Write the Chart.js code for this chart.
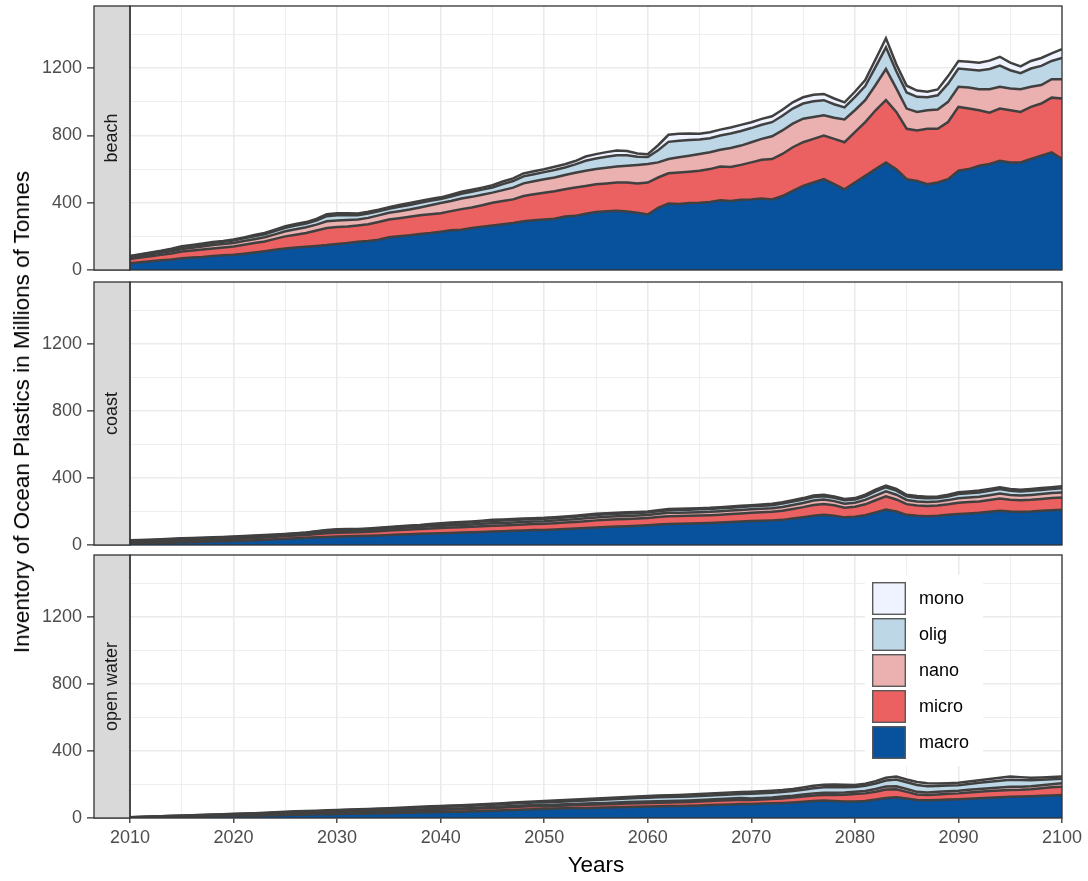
<!DOCTYPE html>
<html>
<head>
<meta charset="utf-8">
<script src="https://cdn.jsdelivr.net/npm/chart.js@4.4.1/dist/chart.umd.min.js"></script>
<style>
  html, body { margin: 0; padding: 0; background: #fff; }
  #wrap { position: relative; width: 1088px; height: 881px; overflow: hidden; }
  #wrap canvas { position: absolute; left: 0; }
  #ytitle {
    position: absolute; left: 22px; top: 412px;
    transform: translate(-50%, -50%) rotate(-90deg);
    white-space: nowrap; color: #000;
    font: 22.5px "Liberation Sans", Arial, sans-serif;
  }
</style>
</head>
<body>
<div id="wrap">
  <canvas id="beach" width="1088" height="282" style="top:0"></canvas>
  <canvas id="coast" width="1088" height="287" style="top:270px"></canvas>
  <canvas id="openwater" width="1088" height="348" style="top:533px"></canvas>
  <div id="ytitle">Inventory of Ocean Plastics in Millions of Tonnes</div>
</div>
<script>
const FONT = '"Liberation Sans", Arial, sans-serif';

// x categories: one value per year
const years = Array.from({ length: 91 }, (_, i) => 2010 + i);
const layers = ['macro', 'micro', 'nano', 'olig', 'mono'];
const layerColors = ['#08519C', '#EB6161', '#EBB1B1', '#BDD7E7', '#EFF3FF'];

const yTicks = [0, 200, 400, 600, 800, 1000, 1200, 1400];
const yLabels = [0, 400, 800, 1200];
const xTicks = [2010, 2015, 2020, 2025, 2030, 2035, 2040, 2045, 2050, 2055,
                2060, 2065, 2070, 2075, 2080, 2085, 2090, 2095, 2100];
const xLabels = [2010, 2020, 2030, 2040, 2050, 2060, 2070, 2080, 2090, 2100];

// ---- beach ----
const beachMacro = [40,46,52,58,63,70,74,78,84,87,
  90,97,104,112,120,128,134,138,143,148,
  155,160,168,172,180,195,200,206,214,220,
  228,236,240,250,258,265,272,280,290,296,
  300,305,318,322,335,345,350,352,348,340,
  330,370,395,392,398,400,405,415,410,418,
  420,425,420,440,470,500,520,540,510,480,
  520,560,600,640,600,540,530,510,520,540,
  590,600,620,630,650,640,640,660,680,700,
  660];
const beachMicro = [25,28,30,32,35,40,42,44,44,47,
  50,53,56,58,65,72,76,82,92,102,
  100,98,97,100,105,105,108,110,111,112,
  110,114,122,122,127,135,138,140,150,154,
  160,163,162,168,165,165,165,168,172,175,
  190,180,180,188,187,190,195,200,202,207,
  220,230,240,250,260,260,260,260,270,280,
  300,320,350,370,340,300,300,330,320,340,
  380,360,330,305,310,310,300,310,310,325,
  360];
const beachNano = [10,11,12,13,14,15,16,18,20,20,
  20,22,23,25,27,30,32,34,35,40,
  40,40,35,38,40,40,42,44,47,53,
  60,60,63,63,63,60,65,70,75,78,
  80,82,85,88,90,90,93,95,100,110,
  110,90,85,90,95,100,100,100,113,115,
  120,125,135,140,140,140,130,120,125,135,
  130,130,150,185,140,120,110,110,115,120,
  120,125,125,140,130,130,135,120,110,110,
  115];
const beachOlig = [6,6,7,8,10,12,12,12,14,14,
  15,16,18,18,20,21,22,22,24,30,
  30,28,26,26,24,24,26,27,28,26,
  24,27,28,30,30,31,36,39,42,42,
  42,45,45,50,60,63,66,68,62,48,
  42,72,102,99,93,86,84,85,87,87,
  84,84,84,87,90,90,93,90,81,72,
  78,84,108,129,102,96,90,78,84,108,
  108,108,111,120,126,108,96,108,114,108,
  126];
const beachMono = [2,3,3,3,4,5,5,5,5,5,
  6,6,7,7,8,9,9,9,10,12,
  12,12,10,10,10,10,10,11,11,11,
  10,11,12,12,12,13,15,16,17,17,
  17,19,19,20,25,26,27,28,25,20,
  17,30,42,41,39,35,35,35,36,36,
  35,35,35,36,37,37,39,37,34,30,
  32,35,45,54,42,40,37,32,35,45,
  45,45,46,50,52,45,40,45,47,45,
  52];

// ---- coast ----
const coastMacro = [10,11,12,13,14,16,17,19,21,22,
  24,26,29,32,35,38,40,43,46,48,
  50,52,53,55,57,60,62,64,67,69,
  70,72,74,76,78,80,82,85,87,89,
  90,93,96,99,102,105,108,110,112,115,
  118,122,126,127,128,130,132,134,137,140,
  143,145,147,150,158,166,175,180,175,165,
  168,178,195,212,200,180,174,172,175,180,
  185,188,192,198,205,200,198,200,204,208,
  210];
const coastMicro = [8,8,9,9,10,11,11,11,11,12,
  12,13,13,13,14,15,16,17,20,22,
  23,23,23,24,25,26,27,28,28,30,
  31,32,32,33,34,35,35,35,36,36,
  37,37,38,39,40,42,42,43,43,43,
  43,45,46,46,46,46,46,47,48,48,
  49,50,51,54,57,60,64,65,62,58,
  60,65,72,78,72,64,62,61,61,63,
  67,68,68,70,72,70,69,70,71,72,
  73];
const coastNano = [4,4,4,5,5,5,6,6,6,6,
  6,6,6,7,7,7,8,8,9,10,
  10,10,10,10,11,11,12,12,12,13,
  13,14,14,14,15,15,15,15,15,15,
  15,16,16,16,17,17,18,18,18,18,
  18,19,20,20,20,20,20,21,21,21,
  21,22,22,23,24,25,26,26,25,24,
  24,26,28,30,28,25,24,24,24,25,
  27,27,28,29,30,29,28,29,29,30,
  30];
const coastOlig = [4,5,5,5,6,6,6,6,6,6,
  6,6,6,5,4,4,4,5,5,7,
  8,7,7,7,7,8,8,8,9,10,
  11,11,12,13,13,14,14,14,14,14,
  14,14,14,15,15,15,15,15,15,15,
  15,15,16,17,17,17,17,17,17,18,
  18,18,18,20,20,20,21,20,20,20,
  20,22,25,25,25,22,22,22,21,22,
  25,26,26,27,27,25,25,25,25,25,
  26];
const coastMono = [2,2,2,2,2,2,2,2,2,2,
  2,2,2,2,2,2,2,2,2,3,
  3,3,3,3,3,3,3,4,4,4,
  5,5,5,5,5,6,6,6,6,6,
  6,6,6,6,6,7,7,7,7,6,
  6,7,7,7,7,7,7,7,7,7,
  7,7,8,8,9,9,9,9,8,8,
  8,9,10,10,10,9,10,9,9,10,
  11,11,11,11,11,11,10,11,11,10,
  11];

// ---- open water ----
const openMacro = [2,3,4,5,6,7,8,9,10,11,
  12,13,14,15,17,18,20,21,22,23,
  24,25,26,27,28,29,31,32,34,35,
  36,37,38,40,42,44,46,48,50,52,
  54,56,58,59,60,61,62,64,66,67,
  69,70,71,72,73,75,77,79,81,83,
  84,86,88,90,93,97,101,104,102,99,
  98,102,110,120,124,116,108,106,108,110,
  112,115,118,121,124,127,128,130,133,135,
  137];
const openMicro = [1,1,2,2,2,3,3,4,4,4,
  5,5,5,6,6,7,7,8,8,8,
  9,9,9,10,10,11,11,12,12,13,
  13,14,14,15,16,16,17,18,18,19,
  15,16,17,18,19,19,20,20,21,21,
  20,21,22,22,23,24,24,25,25,26,
  23,24,25,27,29,31,33,33,36,40,
  45,45,47,50,48,40,32,31,33,35,
  35,37,38,40,40,40,40,42,45,48,
  50];
const openNano = [1,1,1,1,1,1,1,1,1,2,
  2,2,2,2,2,3,3,3,3,3,
  3,3,4,4,4,4,4,5,5,5,
  5,5,5,5,5,6,6,6,6,6,
  7,7,7,7,8,8,8,8,8,9,
  9,9,9,9,9,9,10,10,10,10,
  10,10,10,11,11,12,13,13,13,13,
  13,14,16,18,18,17,16,15,15,15,
  15,16,17,17,18,19,19,18,18,19,
  20];
const openOlig = [1,1,1,2,3,3,3,3,4,4,
  4,5,6,6,6,6,7,7,8,8,
  8,9,9,9,10,10,10,10,11,12,
  12,12,13,13,13,13,13,14,15,15,
  17,17,17,18,18,20,20,21,21,22,
  23,24,24,24,24,24,24,24,25,25,
  28,28,28,27,28,29,31,34,34,32,
  29,31,33,36,40,40,41,38,35,34,
  34,35,37,38,40,43,40,35,32,30,
  28];
const openMono = [0,1,1,1,1,1,2,2,2,2,
  2,2,2,2,3,3,3,3,3,4,
  4,4,4,4,4,4,5,5,5,5,
  6,6,6,6,6,6,6,6,6,6,
  8,8,8,8,8,8,9,9,9,9,
  10,10,10,11,11,11,11,11,11,11,
  12,12,12,12,12,13,14,14,15,14,
  12,13,14,16,17,17,18,17,15,14,
  15,15,16,17,18,18,17,15,14,13,
  12];

const isMajorY = v => yLabels.includes(v);
const isMajorX = v => xLabels.includes(v);

// strip on the left + panel frame, ggplot theme_bw style
const panelDecor = {
  id: 'panelDecor',
  afterDraw(chart, args, opts) {
    const { ctx, chartArea: a } = chart;
    const stripLeft = a.left - 36;
    ctx.save();
    ctx.fillStyle = '#D9D9D9';
    ctx.fillRect(stripLeft, a.top, 36, a.bottom - a.top);
    ctx.strokeStyle = '#333333';
    ctx.lineWidth = 1.3;
    ctx.strokeRect(stripLeft, a.top, 36, a.bottom - a.top);
    ctx.strokeRect(a.left, a.top, a.right - a.left, a.bottom - a.top);
    ctx.translate(stripLeft + 18, (a.top + a.bottom) / 2);
    ctx.rotate(-Math.PI / 2);
    ctx.fillStyle = '#1A1A1A';
    ctx.font = '18px ' + FONT;
    ctx.textAlign = 'center';
    ctx.textBaseline = 'middle';
    ctx.fillText(opts.text, 0, 0);
    ctx.restore();
  }
};

// ggplot-like legend inside the last panel
const facetLegend = {
  id: 'facetLegend',
  afterDraw(chart, args, opts) {
    if (!opts.show) return;
    const { ctx, chartArea: a } = chart;
    const x0 = a.right - 190, y0 = a.top + 27;
    const items = chart.data.datasets.slice().reverse();
    ctx.save();
    ctx.fillStyle = '#FFFFFF';
    ctx.fillRect(x0 - 7, y0 - 7, 118, items.length * 36 + 11);
    items.forEach((d, i) => {
      const y = y0 + i * 36;
      ctx.fillStyle = d.backgroundColor;
      ctx.fillRect(x0, y, 34, 33);
      ctx.strokeStyle = '#595959';
      ctx.lineWidth = 1.4;
      ctx.strokeRect(x0 + 0.7, y + 0.7, 32.6, 31.6);
      ctx.fillStyle = '#000';
      ctx.font = '18px ' + FONT;
      ctx.textAlign = 'left';
      ctx.textBaseline = 'middle';
      ctx.fillText(d.label, x0 + 47, y + 17);
    });
    ctx.restore();
  }
};

function makePanel(id, name, series, bottom) {
  const cfg = {
    beach:     { padTop: 6,  axisH: 12 },
    coast:     { padTop: 12, axisH: 12 },
    openwater: { padTop: 22, axisH: 63 }
  }[id];

  return new Chart(document.getElementById(id), {
    type: 'line',
    data: {
      datasets: layers.map((layer, i) => ({
        label: layer,
        data: series[i].map((v, j) => ({ x: years[j], y: v })),
        backgroundColor: layerColors[i],
        borderColor: '#404040',
        borderWidth: 2.5,
        pointRadius: 0,
        tension: 0,
        fill: i === 0 ? 'origin' : '-1'
      }))
    },
    options: {
      responsive: false,
      animation: false,
      layout: { padding: { top: cfg.padTop, right: 26, left: 0, bottom: 0 } },
      plugins: {
        legend: { display: false },
        tooltip: { enabled: false },
        panelDecor: { text: name },
        facetLegend: { show: bottom }
      },
      scales: {
        x: {
          type: 'linear', min: 2010, max: 2100, offset: false,
          afterBuildTicks: s => { s.ticks = xTicks.map(v => ({ value: v })); },
          afterFit: s => { s.height = cfg.axisH; s.paddingLeft = 0; s.paddingRight = 0; },
          border: { display: false },
          grid: {
            color: '#EBEBEB',
            lineWidth: c => (c.tick && isMajorX(c.tick.value)) ? 1.6 : 0.8,
            drawTicks: bottom,
            tickLength: 5,
            tickWidth: 1.3,
            tickColor: c => (c.tick && isMajorX(c.tick.value)) ? '#333333' : 'rgba(0,0,0,0)'
          },
          ticks: {
            display: bottom, autoSkip: false, maxRotation: 0, padding: 4,
            color: '#4D4D4D', font: { family: FONT, size: 18 },
            callback: v => isMajorX(v) ? String(v) : ''
          },
          title: {
            display: bottom, text: 'Years', color: '#000',
            font: { family: FONT, size: 22.5 }, padding: { top: 0, bottom: 2 }
          }
        },
        y: {
          stacked: true, min: 0, max: 1570,
          afterBuildTicks: s => { s.ticks = yTicks.map(v => ({ value: v })); },
          afterFit: s => { s.width = 130; s.paddingTop = 0; s.paddingBottom = 0; },
          border: { display: false },
          grid: {
            color: '#EBEBEB',
            lineWidth: c => (c.tick && isMajorY(c.tick.value)) ? 1.6 : 0.8,
            drawTicks: true,
            tickLength: 43,
            tickWidth: 1.3,
            tickColor: c => (c.tick && isMajorY(c.tick.value)) ? '#333333' : 'rgba(0,0,0,0)'
          },
          ticks: {
            padding: 5, autoSkip: false,
            color: '#4D4D4D', font: { family: FONT, size: 18 },
            callback: v => isMajorY(v) ? String(v) : ''
          }
        }
      }
    },
    plugins: [panelDecor, facetLegend]
  });
}

makePanel('beach', 'beach', [beachMacro, beachMicro, beachNano, beachOlig, beachMono], false);
makePanel('coast', 'coast', [coastMacro, coastMicro, coastNano, coastOlig, coastMono], false);
makePanel('openwater', 'open water', [openMacro, openMicro, openNano, openOlig, openMono], true);
</script>
</body>
</html>
